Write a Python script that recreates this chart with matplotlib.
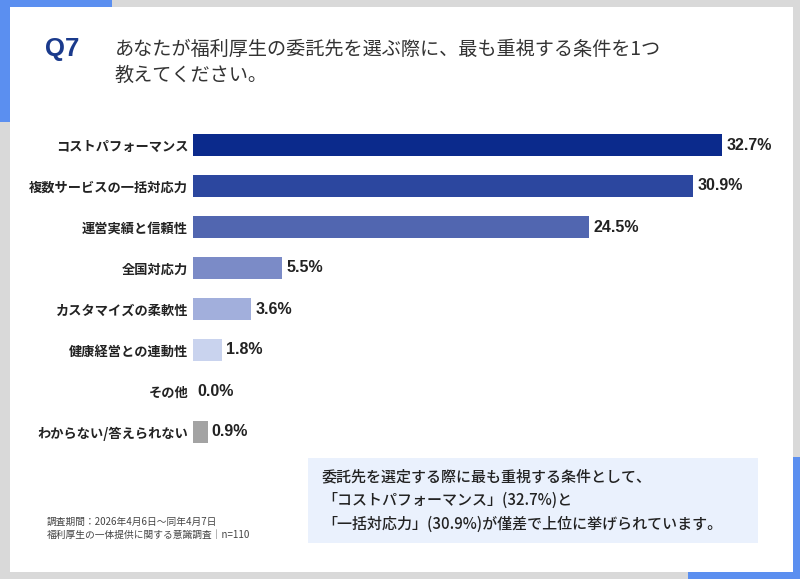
import matplotlib
matplotlib.use("Agg")
import matplotlib.pyplot as plt
from matplotlib.patches import Rectangle

plt.rcParams['font.family'] = ['Noto Sans CJK JP', 'DejaVu Sans']

categories = ["コストパフォーマンス", "複数サービスの一括対応力", "運営実績と信頼性", "全国対応力",
              "カスタマイズの柔軟性", "健康経営との連動性", "その他", "わからない/答えられない"]
values = [32.7, 30.9, 24.5, 5.5, 3.6, 1.8, 0.0, 0.9]
colors = ["#0b2a8c", "#2c479f", "#5166b0", "#7b8bc7", "#a2afdc", "#c9d3ee", "#c9d3ee", "#a3a3a3"]

title_q = "Q7"
title_lines = ["あなたが福利厚生の委託先を選ぶ際に、最も重視する条件を1つ", "教えてください。"]
summary_lines = ["委託先を選定する際に最も重視する条件として、",
                 "「コストパフォーマンス」(32.7%)と",
                 "「一括対応力」(30.9%)が僅差で上位に挙げられています。"]
footnotes = ["調査期間：2026年4月6日～同年4月7日", "福利厚生の一体提供に関する意識調査│n=110"]

W, H = 800, 579
fig = plt.figure(figsize=(W / 100, H / 100), dpi=100)
fig.patch.set_facecolor("#d9d9d9")

bg = fig.add_axes([0, 0, 1, 1])
bg.set_xlim(0, W)
bg.set_ylim(H, 0)
bg.axis("off")

accent = "#5b8ff0"
# top-left accent
bg.add_patch(Rectangle((0, 0), 112, 10, color=accent, lw=0))
bg.add_patch(Rectangle((0, 0), 10, 122, color=accent, lw=0))
# bottom-right accent
bg.add_patch(Rectangle((688, 569), 112, 10, color=accent, lw=0))
bg.add_patch(Rectangle((790, 457), 10, 122, color=accent, lw=0))
# white card
bg.add_patch(Rectangle((10, 7), 783, 565, color="white", lw=0))

bg.text(45, 49, title_q, fontsize=18.5, fontweight="bold", color="#1a3a8c",
        family=["Liberation Sans", "DejaVu Sans"], va="center", ha="left")
for i, line in enumerate(title_lines):
    bg.text(115, 49 + i * 26, line, fontsize=13.8, color="#333333", va="center", ha="left")

# summary box
bg.add_patch(Rectangle((308, 458), 450, 85, color="#eaf1fd", lw=0))
for i, line in enumerate(summary_lines):
    bg.text(322, 477 + i * 23.5, line, fontsize=10.8, color="#222222", va="center", ha="left",
            fontweight="medium")

for i, line in enumerate(footnotes):
    bg.text(47, 522 + i * 13, line, fontsize=7.0, color="#444444", va="center", ha="left")

# bar chart axes
x0, y0, y1 = 193, 124.5, 452.5
xmax = 35
px_per = 16.18
ax = fig.add_axes([x0 / W, 1 - y1 / H, xmax * px_per / W, (y1 - y0) / H])
ax.set_facecolor("none")
pos = list(range(len(categories)))
ax.barh(pos, values, height=0.54, color=colors, edgecolor="none")
ax.set_xlim(0, xmax)
ax.set_ylim(len(categories) - 0.5, -0.5)
for s in ax.spines.values():
    s.set_visible(False)
ax.set_xticks([])
ax.set_yticks(pos)
ax.set_yticklabels(categories, fontsize=9.5, fontweight="bold", color="#222222")
ax.tick_params(axis="y", length=0, pad=3.5)
for p, v in zip(pos, values):
    ax.annotate(f"{v:.1f}%", (v, p), xytext=(3, 0), textcoords="offset points",
                va="center", ha="left", fontsize=11.5, fontweight="bold", color="#222222",
                family=["Liberation Sans", "DejaVu Sans"])

fig.savefig("out.png", dpi=100, facecolor=fig.get_facecolor())
